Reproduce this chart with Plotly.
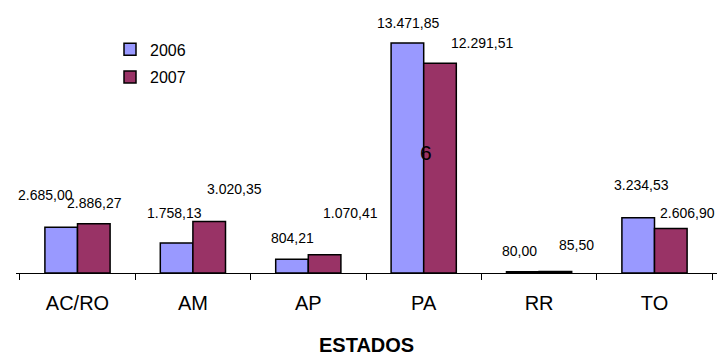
import plotly.graph_objects as go

# Values per state (R$ mil), 2006 vs 2007
estados = ["AC/RO", "AM", "AP", "PA", "RR", "TO"]
valores_2006 = [2685.00, 1758.13, 804.21, 13471.85, 80.00, 3234.53]
valores_2007 = [2886.27, 3020.35, 1070.41, 12291.51, 85.50, 2606.90]
rotulos_2006 = ["2.685,00", "1.758,13", "804,21", "13.471,85", "80,00", "3.234,53"]
rotulos_2007 = ["2.886,27", "3.020,35", "1.070,41", "12.291,51", "85,50", "2.606,90"]

# Label placement offsets (pixels) relative to category centre / bar top
dx_2006 = [-32, -18, -16, -16, -20, -13]
dy_2006 = [32, 30, 21, 20, 21, 33]
dx_2007 = [17, 42, 42, 58, 37, 33]
dy_2007 = [21, 32, 42, 20, 27, 16]

FONT = "Liberation Sans, Arial, sans-serif"
COR_2006 = "#9999FF"
COR_2007 = "#993366"

fig = go.Figure()
fig.add_trace(go.Bar(x=estados, y=valores_2006, name="2006", legendgroup="a",
                     marker=dict(color=COR_2006, line=dict(color="black", width=1.5))))
fig.add_trace(go.Bar(x=estados, y=valores_2007, name="2007", legendgroup="b",
                     marker=dict(color=COR_2007, line=dict(color="black", width=1.5))))

annotations = []
for est, v, t, dx, dy in zip(estados, valores_2006, rotulos_2006, dx_2006, dy_2006):
    annotations.append(dict(x=est, y=v, text=t, showarrow=False, xshift=dx, yshift=dy,
                            yanchor="middle", font=dict(size=14, color="black", family=FONT)))
for est, v, t, dx, dy in zip(estados, valores_2007, rotulos_2007, dx_2007, dy_2007):
    annotations.append(dict(x=est, y=v, text=t, showarrow=False, xshift=dx, yshift=dy,
                            yanchor="middle", font=dict(size=14, color="black", family=FONT)))
annotations.append(dict(x="PA", y=0.469, yref="paper", text="6", showarrow=False, xshift=2,
                        yanchor="middle", font=dict(size=21, color="black", family=FONT)))
annotations.append(dict(x=0.5, y=-0.281, xref="paper", yref="paper", text="<b>ESTADOS</b>",
                        showarrow=False, yanchor="middle",
                        font=dict(size=20, color="black", family=FONT)))

fig.update_layout(
    width=727, height=356,
    margin=dict(l=16, r=10, t=17, b=83),
    paper_bgcolor="white", plot_bgcolor="white",
    barmode="group", bargap=0.435, bargroupgap=0,
    font=dict(family=FONT, color="black"),
    showlegend=True,
    legend=dict(x=(110 - 16) / 701, y=0.94, xanchor="left", yanchor="top",
                font=dict(size=16, family=FONT), bgcolor="rgba(0,0,0,0)",
                tracegroupgap=4, itemwidth=30),
    annotations=annotations,
    xaxis=dict(showline=True, linecolor="black", linewidth=1, ticks="outside",
               tickson="boundaries", ticklen=6, tickcolor="black", showgrid=False,
               tickfont=dict(size=20, family=FONT), ticklabelstandoff=12),
    yaxis=dict(range=[0, 15000], visible=False, showgrid=False, zeroline=False),
)

fig.write_html("out.html")
